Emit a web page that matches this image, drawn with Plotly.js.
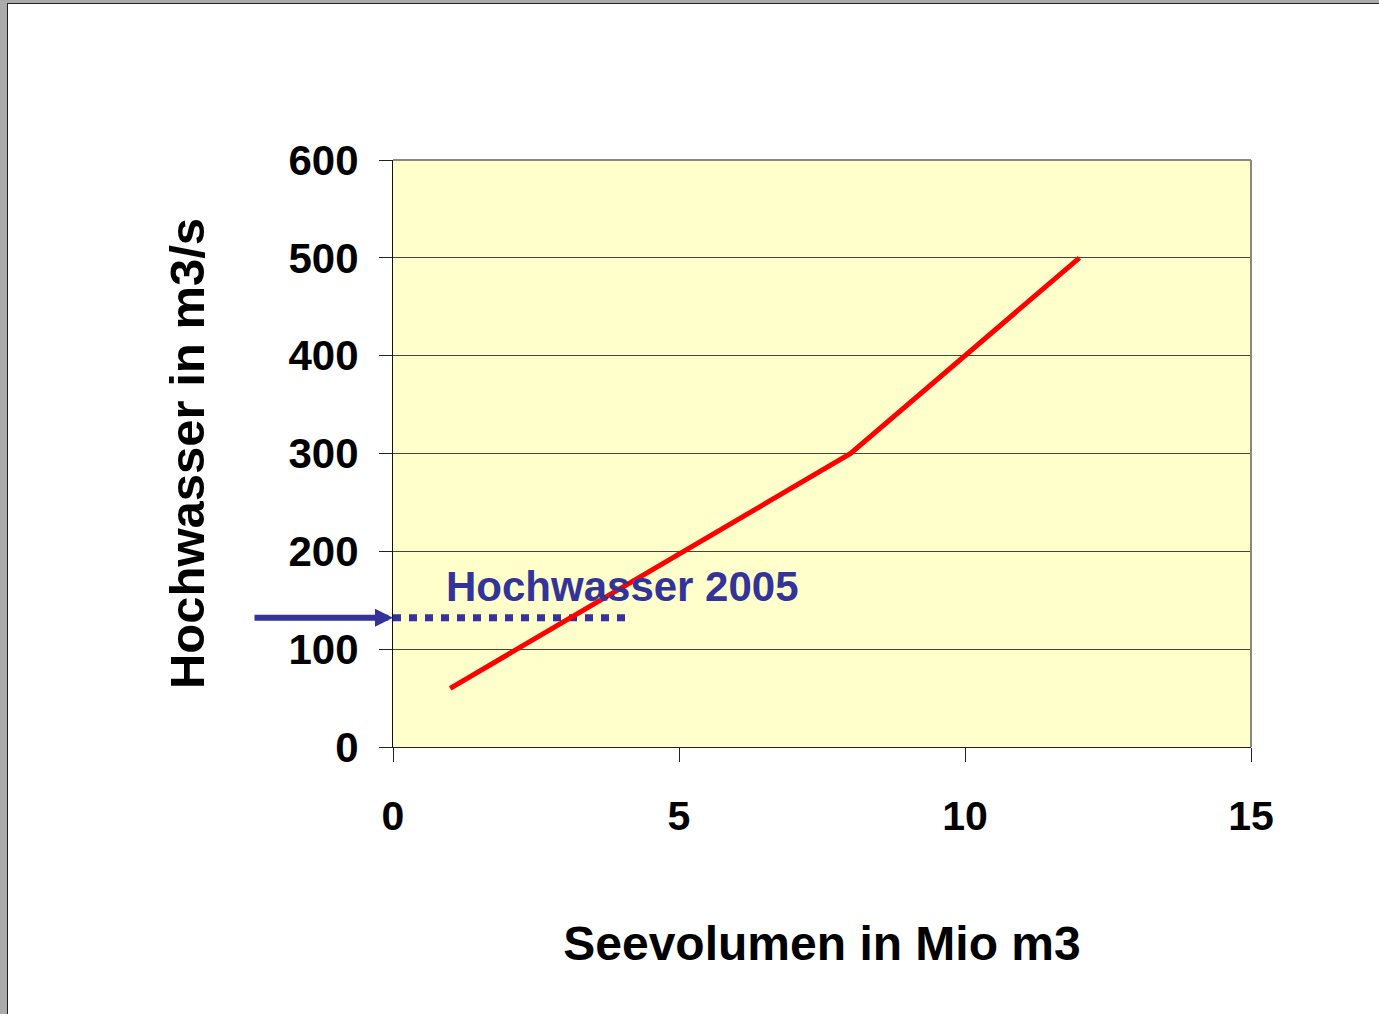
<!DOCTYPE html>
<html>
<head>
<meta charset="utf-8">
<script src="https://cdn.plot.ly/plotly-3.0.1.min.js"></script>
<style>
  html, body { margin: 0; padding: 0; background: #ababab; width: 1379px; height: 1014px; overflow: hidden; }
  #frame { position: absolute; left: 7px; top: 3px; width: 1372px; height: 1011px; border-left: 1px solid #222; border-top: 1px solid #222; background: #fff; }
  #chart { width: 1371px; height: 1010px; }
</style>
</head>
<body>
<div id="frame"><div id="chart"></div></div>
<script>
// Data
const seevolumen = [1, 8, 12];          // Mio m3
const hochwasser = [60, 300, 500];      // m3/s
const hw2005Value = 132;                // m3/s
const hw2005Extent = [0, 4.12];         // x range of dotted marker line
const hw2005Label = "Hochwasser 2005";
const xTicks = [0, 5, 10, 15];
const yTicks = [0, 100, 200, 300, 400, 500, 600];

const blue = "#333399";
const fontFam = "Liberation Sans, Arial, sans-serif";

const traces = [
  {
    x: hw2005Extent,
    y: hw2005Extent.map(() => hw2005Value),
    mode: "lines",
    line: { color: blue, width: 7, dash: "8px,8px" },
    hoverinfo: "skip",
    showlegend: false
  },
  {
    x: seevolumen,
    y: hochwasser,
    mode: "lines",
    line: { color: "#ff0000", width: 5 },
    showlegend: false
  }
];

const layout = {
  width: 1371,
  height: 1010,
  margin: { l: 385, r: 128, t: 156, b: 267 },
  paper_bgcolor: "#ffffff",
  plot_bgcolor: "#ffffcc",
  showlegend: false,
  font: { family: fontFam, color: "#000" },
  xaxis: {
    range: [0, 15],
    tickvals: xTicks,
    ticktext: xTicks.map(String),
    showgrid: false,
    zeroline: false,
    showline: true,
    linecolor: "#222",
    linewidth: 1,
    ticks: "outside",
    ticklen: 14,
    tickwidth: 1,
    tickcolor: "#222",
    ticklabelstandoff: 19,
    tickfont: { family: fontFam, size: 41, color: "#000", weight: "bold" },
    title: { text: "<b>Seevolumen in Mio m3</b>", font: { family: fontFam, size: 48, color: "#000" }, standoff: 88 },
    automargin: false,
    fixedrange: true
  },
  yaxis: {
    range: [0, 600],
    tickvals: yTicks,
    ticktext: yTicks.map(String),
    showgrid: true,
    gridcolor: "#45453a",
    gridwidth: 1,
    zeroline: false,
    showline: true,
    linecolor: "#111",
    linewidth: 1,
    ticks: "outside",
    ticklen: 13,
    tickwidth: 1,
    tickcolor: "#222",
    ticklabelstandoff: 12,
    tickfont: { family: fontFam, size: 42, color: "#000", weight: "bold" },
    title: { text: "<b>Hochwasser in m3/s</b>", font: { family: fontFam, size: 49, color: "#000" }, standoff: 68 },
    automargin: false,
    fixedrange: true
  },
  shapes: [
    { type: "line", xref: "paper", yref: "paper", x0: 0, x1: 1, y0: 1, y1: 1, line: { color: "#888", width: 2 } },
    { type: "line", xref: "paper", yref: "paper", x0: 1, x1: 1, y0: 0, y1: 1, line: { color: "#888", width: 2 } }
  ],
  annotations: [
    {
      x: 0, y: hw2005Value, xref: "x", yref: "y",
      showarrow: true, ax: -140, ay: 0, axref: "pixel", ayref: "pixel",
      arrowhead: 2, arrowsize: 0.6, arrowwidth: 6, arrowcolor: blue, standoff: 0,
      text: ""
    },
    {
      x: 0.89, y: 164, xref: "x", yref: "y",
      xanchor: "left", yanchor: "middle", showarrow: false,
      text: "<b>" + hw2005Label + "</b>",
      font: { family: fontFam, size: 42, color: blue }
    }
  ]
};

Plotly.newPlot("chart", traces, layout, { displayModeBar: false, staticPlot: true });
</script>
</body>
</html>
